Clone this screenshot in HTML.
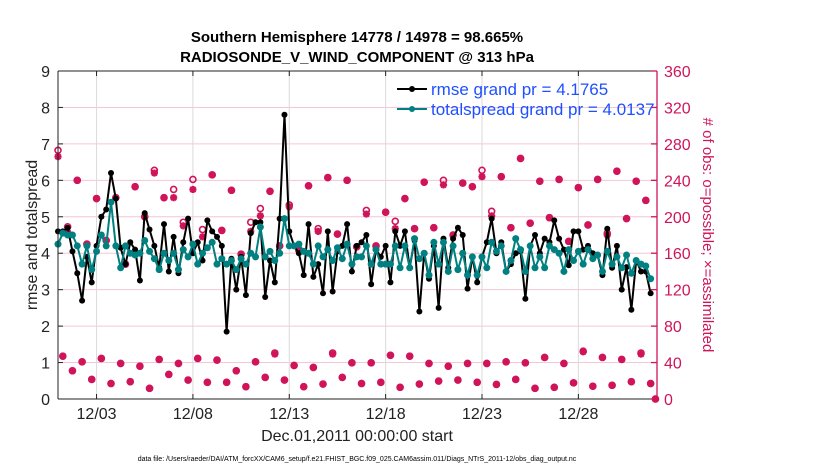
<!DOCTYPE html>
<html><head><meta charset="utf-8"><style>
html,body{margin:0;padding:0;background:#fff;}
svg{display:block;font-family:"Liberation Sans",Arial,sans-serif;}
</style></head><body>
<svg id="chart" width="830" height="470" viewBox="0 0 830 470">
<text x="357" y="42" text-anchor="middle" font-size="15" font-weight="bold" fill="#000">Southern Hemisphere 14778 / 14978 = 98.665%</text>
<text x="357" y="62" text-anchor="middle" font-size="15" font-weight="bold" fill="#000">RADIOSONDE_V_WIND_COMPONENT @ 313 hPa</text>
<g id="grid"></g>
<g id="counts"></g>
<g id="lines"></g>
<g id="axes"></g>
<text transform="translate(37,235) rotate(-90)" text-anchor="middle" font-size="16" fill="#222">rmse and totalspread</text>
<text transform="translate(703,235) rotate(90)" text-anchor="middle" font-size="15" fill="#d0145a"># of obs: o=possible; ×=assimilated</text>
<text x="357" y="441" text-anchor="middle" font-size="16" fill="#222">Dec.01,2011 00:00:00 start</text>
<text x="357" y="461" text-anchor="middle" font-size="7" fill="#000">data file: /Users/raeder/DAI/ATM_forcXX/CAM6_setup/f.e21.FHIST_BGC.f09_025.CAM6assim.011/Diags_NTrS_2011-12/obs_diag_output.nc</text>
<g>
<line x1="397" y1="89" x2="427" y2="89" stroke="#000" stroke-width="2"/>
<circle cx="412" cy="89" r="3" fill="#000"/>
<text x="431" y="95" font-size="17" fill="#1f50ff">rmse grand pr = 4.1765</text>
<line x1="397" y1="109" x2="427" y2="109" stroke="#008080" stroke-width="2"/>
<circle cx="412" cy="109" r="3" fill="#008080"/>
<text x="431" y="115" font-size="17" fill="#1f50ff">totalspread grand pr = 4.0137</text>
</g>
</svg>
<script>
const leftTicks = [0,1,2,3,4,5,6,7,8,9];
const rightTicks = [0,40,80,120,160,200,240,280,320,360];
const dateTickDays = [2,7,12,17,22,27];
const dateTickLabels = ["12/03","12/08","12/13","12/18","12/23","12/28"];
const rmse = [4.6,4.6,4.7,4.05,3.45,2.7,3.9,3.2,4.2,5.0,5.2,6.2,5.5,4.15,3.7,4.3,4.1,3.25,5.1,4.65,4.2,3.6,4.8,3.5,4.45,3.45,4.3,4.95,4.0,4.3,3.8,4.9,4.6,4.45,4.2,1.85,3.85,3.0,3.9,2.85,4.55,4.85,
4.85,2.8,3.8,3.2,4.95,7.8,4.6,4.2,4.0,3.4,4.8,3.35,3.7,2.9,4.6,2.95,4.05,4.2,4.8,3.5,4.2,4.3,4.5,3.15,4.1,3.9,4.2,3.2,4.6,4.2,4.6,3.6,4.35,2.4,4.0,3.3,4.2,2.5,4.4,3.6,4.4,4.7,
4.5,3.03,3.9,3.2,3.9,4.3,4.95,4.0,4.3,3.5,3.7,4.0,4.05,2.75,4.2,4.5,4.0,4.4,4.3,4.9,4.4,4.1,3.67,4.6,4.6,4.1,4.2,4.0,3.95,3.4,4.67,3.6,4.2,3.0,3.62,2.45,3.8,3.5,3.5,2.9];
const spread = [4.25,4.55,4.5,4.5,4.2,3.7,4.2,3.55,4.05,4.5,4.2,5.4,4.2,3.6,4.2,4.0,3.95,4.0,4.35,4.05,3.85,3.55,4.0,3.8,4.0,3.55,4.1,3.9,4.25,3.7,4.0,4.15,4.3,3.7,3.85,3.7,3.8,3.55,3.85,3.7,4.0,3.9,
4.72,3.9,4.05,3.8,4.0,4.95,4.2,4.2,4.25,4.05,4.0,3.7,4.2,3.9,4.1,3.8,4.15,3.85,4.25,3.7,3.9,3.9,4.2,3.7,4.1,3.7,3.7,3.7,4.2,3.6,4.2,3.6,4.4,3.85,4.0,3.4,4.3,3.7,4.3,3.5,4.2,3.55,
4.0,3.4,3.9,3.4,3.9,3.6,4.3,4.05,4.2,3.5,3.8,4.4,4.1,3.5,4.2,3.6,3.9,3.6,4.2,4.1,4.0,3.5,4.1,3.8,4.05,3.7,4.1,3.85,3.95,3.5,4.05,3.7,3.9,3.6,3.95,3.45,3.8,3.7,3.65,3.3];
const nAssim = [266,47,183,31,240,40.8,170,21.5,220,44.5,174,17,221,39,148,19,233,36,200,11.7,248,43.4,221,27,221,39,190,20.8,230,44.5,178,18.3,246,42.7,185,18.3,229,31,159,13.5,184,40.8,201,23.7,228,49.3,168,20.8,211,36.8,163,13.5,234,34.6,184,16.4,243,49.3,181,23.7,240,39.7,167,17,203,39.7,168,18.3,205,48,187,12.8,220,47,187,16.4,238,39,188,19.7,235,36,180,20.8,237,39,233,18.3,244,39,201,16,244,40.8,188,21.5,264,39.7,193,11.7,239,45.6,199,12.8,241,39,173,17.7,232,51.8,191,14,241,45.6,180,15,250,43.4,198,19,239,49.3,218,17,0];
const nPoss = [273,47,189,31,240,40.8,170,21.5,220,44.5,174,17,221,39,148,19,233,36,200,11.7,251,43.4,221,27,230,39,194,20.8,241,44.5,186,18.3,246,42.7,185,18.3,229,31,159,13.5,194,40.8,209,23.7,228,50.5,168,20.8,213,36.8,163,13.5,234,34.6,187,16.4,243,50.5,181,23.7,240,39.7,167,17,207,39.7,168,18.3,205,48,195,12.8,220,47,187,16.4,238,39,188,19.7,240,36,180,20.8,237,39,233,18.3,251,39,206,16,244,40.8,188,21.5,264,39.7,193,11.7,239,45.6,199,12.8,241,39,173,17.7,232,52.5,191,14,241,45.6,182,15,250,43.4,198,19,239,50.5,218,17,0];

const NS="http://www.w3.org/2000/svg";
const L=58,R=657,T=71,B=399,DAYS=31.08;
const MAG="#d0145a";
function xDay(d){return L+(R-L)*d/DAYS;}
function xIdx(i){return xDay(i/4);}
function yL(v){return B-(B-T)*v/9;}
function yR(c){return B-(B-T)*c/360;}
function mk(tag,attrs,parent){const e=document.createElementNS(NS,tag);for(const k in attrs)e.setAttribute(k,attrs[k]);parent.appendChild(e);return e;}
const grid=document.getElementById('grid'),axes=document.getElementById('axes'),cg=document.getElementById('counts'),lg=document.getElementById('lines');

rightTicks.forEach(c=>{const l=mk('line',{x1:L,x2:R,y1:yR(c),y2:yR(c),stroke:'#f4c6d6','stroke-width':1},grid);

});
dateTickDays.forEach(d=>{const l=mk('line',{x1:xDay(d),x2:xDay(d),y1:T,y2:B,stroke:'#dadada','stroke-width':1},grid);

});

// counts
for(let i=0;i<nAssim.length;i++){
  const x=xIdx(i),ya=yR(nAssim[i]),yp=yR(nPoss[i]);
  const g=mk('g',{},cg);
  
  
  const s=3.6,d=2.6;
  mk('path',{d:`M${x-s} ${ya}H${x+s}M${x} ${ya-s}V${ya+s}M${x-d} ${ya-d}L${x+d} ${ya+d}M${x-d} ${ya+d}L${x+d} ${ya-d}`,stroke:MAG,'stroke-width':2.2,fill:'none'},g);
  mk('circle',{cx:x,cy:yp,r:3,stroke:MAG,'stroke-width':1.6,fill:'none'},g);
}

function series(vals,color,r,name){
  const pts=vals.map((v,i)=>xIdx(i).toFixed(1)+','+yL(v).toFixed(1)).join(' ');
  const pl=mk('polyline',{points:pts,fill:'none',stroke:color,'stroke-width':2,'stroke-linejoin':'round'},lg);
  
  
  vals.forEach((v,i)=>{const c=mk('circle',{cx:xIdx(i),cy:yL(v),r:r,fill:color},lg);
  
  });
}
series(rmse,'#000',3,'rmse');
series(spread,'#008080',3.5,'totalspread');

// axes
mk('line',{x1:L,x2:L,y1:T,y2:B,stroke:'#222','stroke-width':1},axes);
mk('line',{x1:L,x2:R,y1:B,y2:B,stroke:'#222','stroke-width':1},axes);
mk('line',{x1:L,x2:R,y1:T,y2:T,stroke:'#222','stroke-width':1},axes);
mk('line',{x1:R,x2:R,y1:T,y2:B,stroke:MAG,'stroke-width':1.3},axes);
leftTicks.forEach(v=>{mk('line',{x1:L,x2:L+5,y1:yL(v),y2:yL(v),stroke:'#222'},axes);
const t=mk('text',{x:L-8,y:yL(v)+6,'text-anchor':'end','font-size':16,fill:'#222'},axes);t.textContent=v;

});
rightTicks.forEach(c=>{mk('line',{x1:R-6,x2:R,y1:yR(c),y2:yR(c),stroke:MAG,'stroke-width':1.3},axes);
const t=mk('text',{x:R+7,y:yR(c)+6,'font-size':16,fill:MAG},axes);t.textContent=c;

});
dateTickDays.forEach((d,k)=>{mk('line',{x1:xDay(d),x2:xDay(d),y1:B,y2:B-5,stroke:'#222'},axes);
mk('line',{x1:xDay(d),x2:xDay(d),y1:T,y2:T+5,stroke:'#222'},axes);
const t=mk('text',{x:xDay(d),y:419,'text-anchor':'middle','font-size':16,fill:'#222'},axes);t.textContent=dateTickLabels[k];

});
</script>
</body></html>
